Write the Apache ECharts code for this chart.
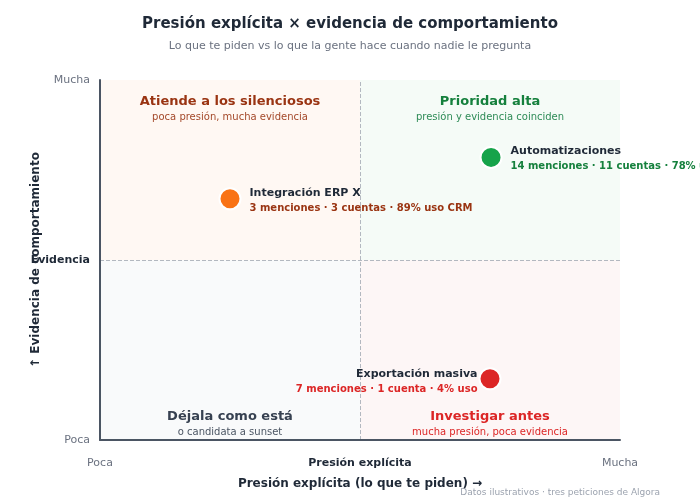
<!DOCTYPE html>
<html>
<head>
<meta charset="UTF-8">
<title>Presión explícita × evidencia</title>
<style>
  html, body { margin: 0; padding: 0; background: #fff; }
  #chart { width: 700px; height: 500px; }
</style>
</head>
<body>
<div id="chart"></div>
<script src="https://cdn.jsdelivr.net/npm/echarts@6/dist/echarts.min.js"></script>
<script>
// datos
var nombres = ['Integración ERP X', 'Automatizaciones', 'Exportación masiva'];
var presion = [0.25, 0.752, 0.75];
var evidencia = [0.67, 0.785, 0.17];
var detalles = [
    '3 menciones · 3 cuentas · 89% uso CRM',
    '14 menciones · 11 cuentas · 78% uso',
    '7 menciones · 1 cuenta · 4% uso'
];
var colores = ['#f97316', '#16a34a', '#dc2626'];
var coloresTexto = ['#9a3412', '#15803d', '#dc2626'];
var lados = ['right', 'right', 'left'];

var xTicks = ['Poca', 'Presión explícita', 'Mucha'];
var yTicks = ['Poca', 'Evidencia', 'Mucha'];

// cuadrantes: [titulo, subtitulo]
var cuadrantes = [
    ['Atiende a los silenciosos', 'poca presión, mucha evidencia'],
    ['Prioridad alta', 'presión y evidencia coinciden'],
    ['Déjala como está', 'o candidata a sunset'],
    ['Investigar antes', 'mucha presión, poca evidencia']
];

var font = 'DejaVu Sans';

function quadLabel(i, pos, color, subColor) {
    return {
        show: true,
        position: pos,
        distance: pos === 'insideTop' ? 14 : 1,
        formatter: '{t|' + cuadrantes[i][0] + '}\n{s|' + cuadrantes[i][1] + '}',
        rich: {
            t: { fontFamily: font, fontSize: 13, fontWeight: 'bold', color: color, lineHeight: 16, align: 'center' },
            s: { fontFamily: font, fontSize: 10, color: subColor, lineHeight: 14, align: 'center' }
        }
    };
}

var puntos = nombres.map(function (n, i) {
    var izq = lados[i] === 'left';
    return {
        value: [presion[i], evidencia[i]],
        itemStyle: { color: colores[i], opacity: 1 },
        label: {
            show: true,
            position: lados[i],
            distance: izq ? 1 : 8,
            offset: [0, izq ? 3 : 2],
            align: izq ? 'right' : 'left',
            formatter: '{n|' + n + '}\n{d|' + detalles[i] + '}',
            rich: {
                n: { fontFamily: font, fontSize: 11, fontWeight: 'bold', color: '#1f2937', lineHeight: 15, align: izq ? 'right' : 'left' },
                d: { fontFamily: font, fontSize: 10, fontWeight: 'bold', color: coloresTexto[i], lineHeight: 16, align: izq ? 'right' : 'left' }
            }
        }
    };
});

var myChart = echarts.init(document.getElementById('chart'));
var option = {
    backgroundColor: '#ffffff',
    animation: false,
    textStyle: { fontFamily: font },
    title: {
        text: 'Presión explícita × evidencia de comportamiento',
        subtext: 'Lo que te piden vs lo que la gente hace cuando nadie le pregunta',
        left: 'center',
        top: 12,
        itemGap: 9,
        textStyle: { fontFamily: font, fontSize: 15, fontWeight: 'bold', color: '#1f2937' },
        subtextStyle: { fontFamily: font, fontSize: 11, color: '#6b7280' }
    },
    graphic: [{
        type: 'text',
        right: 40,
        top: 488,
        style: {
            text: 'Datos ilustrativos · tres peticiones de Algora',
            fontFamily: font,
            fontSize: 9,
            fill: '#9ca3af'
        }
    }],
    grid: { left: 100, right: 80, top: 80, bottom: 60 },
    xAxis: {
        type: 'value',
        z: 10,
        min: 0,
        max: 1,
        interval: 0.5,
        name: 'Presión explícita (lo que te piden) →',
        nameLocation: 'middle',
        nameGap: 38,
        nameMoveOverlap: false,
        nameTextStyle: { fontFamily: font, fontSize: 12, fontWeight: 'bold', color: '#1f2937' },
        axisLine: { show: true, lineStyle: { color: '#4b5563', width: 2 } },
        axisTick: { show: false },
        splitLine: { show: false },
        axisLabel: {
            margin: 18,
            fontFamily: font,
            fontSize: 11,
            color: '#6b7280',
            formatter: function (v) {
                var i = Math.round(v * 2);
                return i === 1 ? '{b|' + xTicks[i] + '}' : xTicks[i];
            },
            rich: { b: { fontFamily: font, fontSize: 11, fontWeight: 'bold', color: '#1f2937' } }
        }
    },
    yAxis: {
        type: 'value',
        z: 10,
        min: 0,
        max: 1,
        interval: 0.5,
        name: '↑ Evidencia de comportamiento',
        nameLocation: 'middle',
        nameGap: 58,
        nameMoveOverlap: false,
        nameRotate: 90,
        nameTextStyle: { fontFamily: font, fontSize: 12, fontWeight: 'bold', color: '#1f2937' },
        axisLine: { show: true, lineStyle: { color: '#4b5563', width: 2 } },
        axisTick: { show: false },
        splitLine: { show: false },
        axisLabel: {
            margin: 10,
            fontFamily: font,
            fontSize: 11,
            color: '#6b7280',
            formatter: function (v) {
                var i = Math.round(v * 2);
                return i === 1 ? '{b|' + yTicks[i] + '}' : yTicks[i];
            },
            rich: { b: { fontFamily: font, fontSize: 11, fontWeight: 'bold', color: '#1f2937' } }
        }
    },
    series: [
        {
            type: 'scatter',
            name: 'cuadrantes',
            data: [],
            silent: true,
            z: 1,
            markArea: {
                silent: true,
                data: [
                    [{ coord: [0, 0.5], itemStyle: { color: '#fff8f3' }, label: quadLabel(0, 'insideTop', '#9a3412', '#a4492a') }, { coord: [0.5, 1] }],
                    [{ coord: [0.5, 0.5], itemStyle: { color: '#f5fbf7' }, label: quadLabel(1, 'insideTop', '#15803d', '#2e8b57') }, { coord: [1, 1] }],
                    [{ coord: [0, 0], itemStyle: { color: '#f9fafb' }, label: quadLabel(2, 'insideBottom', '#374151', '#4b5563') }, { coord: [0.5, 0.5] }],
                    [{ coord: [0.5, 0], itemStyle: { color: '#fdf6f6' }, label: quadLabel(3, 'insideBottom', '#dc2626', '#dc2626') }, { coord: [1, 0.5] }]
                ]
            },
            markLine: {
                silent: true,
                symbol: 'none',
                label: { show: false },
                lineStyle: { color: '#b3b8c0', width: 1, type: 'dashed' },
                data: [{ xAxis: 0.5 }, { yAxis: 0.5 }]
            }
        },
        {
            type: 'scatter',
            name: 'peticiones',
            symbolSize: 21,
            itemStyle: { borderColor: '#ffffff', borderWidth: 2, opacity: 1 },
            z: 5,
            data: puntos
        }
    ]
};
myChart.setOption(option);
</script>
</body>
</html>
